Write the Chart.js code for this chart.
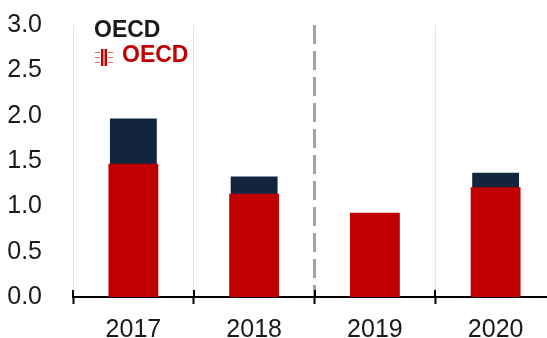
<!DOCTYPE html>
<html>
<head>
<meta charset="utf-8">
<script src="https://cdn.jsdelivr.net/npm/chart.js@4/dist/chart.umd.min.js"></script>
<style>
  html, body { margin: 0; padding: 0; background: #fff; overflow: hidden; }
  #wrap { width: 560px; height: 338px; }
</style>
</head>
<body>
<div id="wrap"><canvas id="chart" width="560" height="338"></canvas></div>
<script>
// values
const years = ["2017", "2018", "2019", "2020"];
const totalValues = [1.97, 1.33, null, 1.37];
const redValues = [1.47, 1.14, 0.93, 1.21];
const yTicks = [0, 0.5, 1, 1.5, 2, 2.5, 3];
const seriesLabels = ["OECD", "OECD"];

const RED = "#C00000";
const NAVY = "#13243F";

Chart.defaults.font.family = "'Liberation Sans', Arial, sans-serif";
Chart.defaults.color = "#1a1a1a";

// legend in the top left + tick marks crossing the x axis
const extras = {
    id: "extras",
    afterDraw(chart) {
        const ctx = chart.ctx;
        const area = chart.chartArea;
        const x = chart.scales.x;
        const half = (x.getPixelForValue(1) - x.getPixelForValue(0)) / 2;

        ctx.save();
        ctx.strokeStyle = "#000";
        ctx.lineWidth = 2;
        for (let i = 0; i <= years.length; i++) {
            const px = Math.round(x.getPixelForValue(i) - half);
            ctx.beginPath();
            ctx.moveTo(px, area.bottom - 7);
            ctx.lineTo(px, area.bottom);
            ctx.stroke();
        }

        ctx.font = "bold 23px 'Liberation Sans', Arial, sans-serif";
        ctx.textBaseline = "middle";
        ctx.fillStyle = "#1a1a1a";
        ctx.fillText(seriesLabels[0], 94, 31);

        // little hatched marker before the red entry
        ctx.fillStyle = RED;
        ctx.fillRect(101, 49, 2.5, 17);
        ctx.fillRect(104.5, 49, 2.5, 17);
        ctx.strokeStyle = "rgba(192,0,0,0.55)";
        ctx.lineWidth = 1;
        [52, 57, 62].forEach(y => {
            ctx.beginPath();
            ctx.moveTo(95, y + 0.5); ctx.lineTo(100, y + 0.5);
            ctx.moveTo(108, y + 0.5); ctx.lineTo(113, y + 0.5);
            ctx.stroke();
        });
        ctx.fillStyle = RED;
        ctx.fillText(seriesLabels[1], 122, 56);
        ctx.restore();
    }
};

new Chart(document.getElementById("chart"), {
    type: "bar",
    data: {
        labels: years,
        datasets: [
            {
                label: seriesLabels[1],
                data: redValues,
                backgroundColor: RED,
                grouped: false,
                barPercentage: 0.413,
                categoryPercentage: 1
            },
            {
                label: seriesLabels[0],
                data: totalValues,
                backgroundColor: NAVY,
                grouped: false,
                barPercentage: 0.388,
                categoryPercentage: 1
            }
        ]
    },
    options: {
        responsive: false,
        animation: false,
        layout: { padding: { top: 25, right: 4, left: 0, bottom: 0 } },
        plugins: {
            legend: { display: false },
            tooltip: { enabled: false }
        },
        scales: {
            x: {
                offset: true,
                afterFit: s => { s.height = 41; s.paddingLeft = 0; s.paddingRight = 0; },
                grid: {
                    offset: true,
                    color: c => c.index === 2 ? "#a3a3a3" : "#e4e4e4",
                    lineWidth: c => c.index === 2 ? 3 : 1,
                    tickColor: "#000",
                    tickWidth: 2,
                    tickLength: 7
                },
                border: {
                    color: "#000",
                    width: 2,
                    dash: c => c.index === 2 ? [19, 7] : []
                },
                ticks: {
                    font: { size: 25 },
                    color: "#1a1a1a",
                    padding: 11
                }
            },
            y: {
                min: 0,
                max: 3,
                afterFit: s => { s.width = 73; s.paddingTop = 0; s.paddingBottom = 0; },
                afterBuildTicks: s => { s.ticks = yTicks.map(v => ({ value: v })); },
                grid: { display: false },
                border: { display: false },
                ticks: {
                    font: { size: 25 },
                    color: "#1a1a1a",
                    padding: 23,
                    callback: v => Number(v).toFixed(1)
                }
            }
        }
    },
    plugins: [extras]
});
</script>
</body>
</html>
